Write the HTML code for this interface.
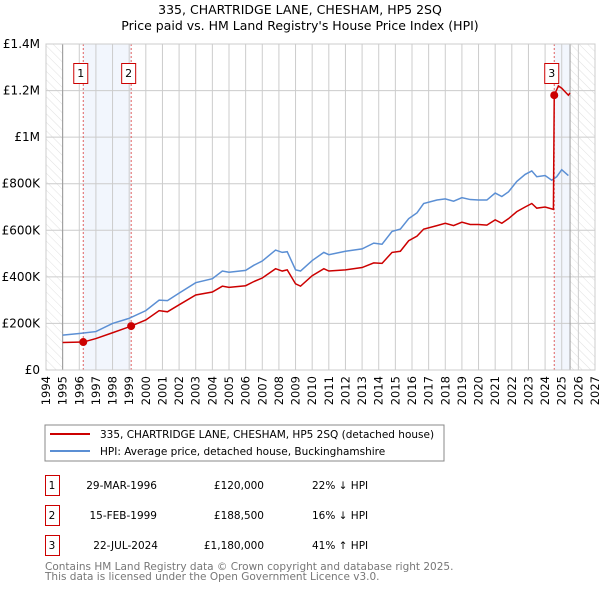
<!DOCTYPE html>
<html><head><meta charset="utf-8"><style>
body{margin:0;background:#fff;font-family:"DejaVu Sans","Liberation Sans",sans-serif;}
</style></head><body>
<svg id="c" width="600" height="590" xmlns="http://www.w3.org/2000/svg" style="font-family:'DejaVu Sans','Liberation Sans',sans-serif">
<defs><pattern id="hatch" width="6" height="6" patternUnits="userSpaceOnUse" patternTransform="rotate(-45)"><line x1="0" y1="0" x2="0" y2="6" stroke="#d8d8d8" stroke-width="0.8"/></pattern></defs>
<text x="300" y="14" text-anchor="middle" font-size="12.5">335, CHARTRIDGE LANE, CHESHAM, HP5 2SQ</text>
<text x="300" y="30" text-anchor="middle" font-size="12.5">Price paid vs. HM Land Registry's House Price Index (HPI)</text>
<g id="plot"></g>
<rect x="45" y="425" width="399" height="36" fill="#fff" stroke="#888"/>
<line x1="50" y1="434" x2="90" y2="434" stroke="#cc0000" stroke-width="2"/>
<text x="100" y="438" font-size="10.5">335, CHARTRIDGE LANE, CHESHAM, HP5 2SQ (detached house)</text>
<line x1="50" y1="451" x2="90" y2="451" stroke="#5b8fd4" stroke-width="2"/>
<text x="100" y="455" font-size="10.5">HPI: Average price, detached house, Buckinghamshire</text>
<g font-size="10.5">
<rect x="45.5" y="475.5" width="14" height="20" fill="none" stroke="#cc0000"/><text x="52" y="489" text-anchor="middle">1</text>
<text x="157" y="489" text-anchor="end">29-MAR-1996</text><text x="264" y="489" text-anchor="end">£120,000</text><text x="312" y="489">22% ↓ HPI</text>
<rect x="45.5" y="505.5" width="14" height="20" fill="none" stroke="#cc0000"/><text x="52" y="519" text-anchor="middle">2</text>
<text x="157" y="519" text-anchor="end">15-FEB-1999</text><text x="264" y="519" text-anchor="end">£188,500</text><text x="312" y="519">16% ↓ HPI</text>
<rect x="45.5" y="535.5" width="14" height="20" fill="none" stroke="#cc0000"/><text x="52" y="549" text-anchor="middle">3</text>
<text x="158" y="549" text-anchor="end">22-JUL-2024</text><text x="264" y="549" text-anchor="end">£1,180,000</text><text x="312" y="549">41% ↑ HPI</text>
</g>
<text x="45" y="570" font-size="10.5" fill="#777">Contains HM Land Registry data © Crown copyright and database right 2025.</text>
<text x="45" y="580" font-size="10.5" fill="#777">This data is licensed under the Open Government Licence v3.0.</text>
</svg>
<script>
const hpiYears=[1995,1996,1997,1998,1999,2000,2000.8,2001.3,2002,2003,2004,2004.6,2005,2006,2006.5,2007,2007.8,2008.2,2008.5,2009,2009.3,2010,2010.7,2011,2012,2013,2013.7,2014.2,2014.8,2015.3,2015.8,2016.3,2016.7,2017.5,2018,2018.5,2019,2019.5,2020,2020.5,2021,2021.4,2021.8,2022.3,2022.8,2023.2,2023.5,2024,2024.4,2024.7,2025,2025.4];
const hpiValues=[150,157,165,200,222,255,300,298,330,375,392,425,420,428,450,468,515,505,508,430,425,470,505,495,510,520,545,540,595,605,650,675,715,730,735,725,740,732,730,730,760,745,765,810,840,855,830,835,815,830,860,835];
const priceYears=[1995,1996.24,1997,1998,1999.12,2000,2000.8,2001.3,2002,2003,2004,2004.6,2005,2006,2006.5,2007,2007.8,2008.2,2008.5,2009,2009.3,2010,2010.7,2011,2012,2013,2013.7,2014.2,2014.8,2015.3,2015.8,2016.3,2016.7,2017.5,2018,2018.5,2019,2019.5,2020,2020.5,2021,2021.4,2021.8,2022.3,2022.8,2023.2,2023.5,2024,2024.5,2024.55,2024.8,2025,2025.4,2025.5];
const priceValues=[118,120,135,160,188.5,215,255,250,280,322,335,360,355,362,380,395,435,425,430,370,360,405,435,425,430,440,460,458,505,510,555,575,605,620,630,620,635,625,625,622,645,630,650,680,700,715,695,700,690,1180,1220,1210,1180,1190];
const sales=[[1996.24,120],[1999.12,188.5],[2024.55,1180]];
const yTicks=[0,200,400,600,800,1000,1200,1400];
const yLabels=["£0","£200K","£400K","£600K","£800K","£1M","£1.2M","£1.4M"];
const NS="http://www.w3.org/2000/svg";
const X0=46,X1=595,Y0=370,Y1=44;
const xs=y=>X0+(y-1994)/(2027-1994)*(X1-X0);
const ys=v=>Y0-v/1400*(Y0-Y1);
const g=document.getElementById('plot');
function mk(t,a){const e=document.createElementNS(NS,t);for(const k in a)e.setAttribute(k,a[k]);g.appendChild(e);return e;}
let e;
e=mk('rect',{x:X0,y:Y1,width:xs(1995)-X0,height:Y0-Y1,fill:'url(#hatch)'});


e=mk('rect',{x:xs(2025.5),y:Y1,width:X1-xs(2025.5),height:Y0-Y1,fill:'url(#hatch)'});


e=mk('rect',{x:xs(1996.24),y:Y1,width:xs(1999.12)-xs(1996.24),height:Y0-Y1,fill:'#f2f6fd'});


e=mk('rect',{x:xs(2024.55),y:Y1,width:xs(2025.5)-xs(2024.55),height:Y0-Y1,fill:'#f2f6fd'});


for(let yr=1994;yr<=2027;yr++){
 const x=xs(yr);
 e=mk('line',{x1:x,y1:Y1,x2:x,y2:Y0,stroke:'#ccc','stroke-width':1});
 
 
 e=mk('text',{x:0,y:0,'font-size':11.5,'text-anchor':'end',transform:`translate(${x+4},${Y0+6}) rotate(-90)`});
 e.textContent=yr;
 
 
}
yTicks.forEach((v,i)=>{
 const y=ys(v);
 e=mk('line',{x1:X0,y1:y,x2:X1,y2:y,stroke:'#ccc','stroke-width':1});
 
 
 e=mk('text',{x:X0-6,y:y+4,'font-size':12,'text-anchor':'end'});
 e.textContent=yLabels[i];
 
 
});
e=mk('line',{x1:xs(1995),y1:Y1,x2:xs(1995),y2:Y0,stroke:'#999'});


e=mk('line',{x1:xs(2025.5),y1:Y1,x2:xs(2025.5),y2:Y0,stroke:'#999'});


sales.forEach((s,i)=>{
 const x=xs(s[0]);
 e=mk('line',{x1:x,y1:Y1,x2:x,y2:Y0,stroke:'#e06060','stroke-dasharray':'2,2'});
 
 
});
e=mk('polyline',{points:hpiYears.map((y,i)=>xs(y)+','+ys(hpiValues[i])).join(' '),fill:'none',stroke:'#5b8fd4','stroke-width':1.5});


e=mk('polyline',{points:priceYears.map((y,i)=>xs(y)+','+ys(priceValues[i])).join(' '),fill:'none',stroke:'#cc0000','stroke-width':1.5});


sales.forEach((s,i)=>{
 e=mk('circle',{cx:xs(s[0]),cy:ys(s[1]),r:4,fill:'#cc0000'});
 
 
 const bx=xs(s[0])-10;
 e=mk('rect',{x:bx+0.5,y:63.5,width:14,height:20,fill:'#fff',stroke:'#cc0000'});
 
 
 e=mk('text',{x:bx+7.5,y:77,'font-size':11,'text-anchor':'middle'});
 e.textContent=i+1;
 
 
});
e=mk('rect',{x:X0,y:Y1,width:X1-X0,height:Y0-Y1,fill:'none',stroke:'#ccc'});


</script>
</body></html>
